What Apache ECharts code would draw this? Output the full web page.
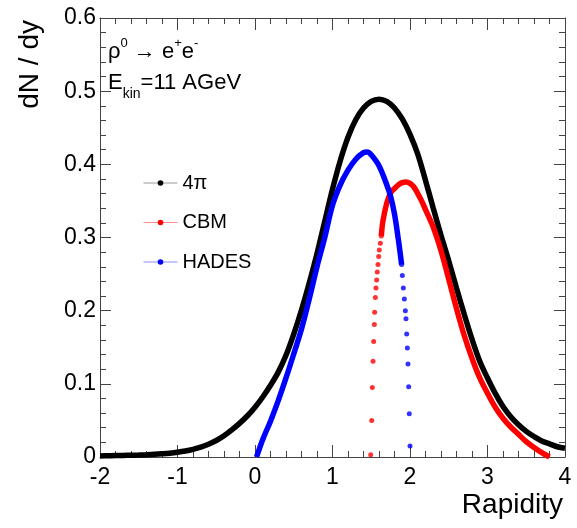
<!DOCTYPE html>
<html><head><meta charset="utf-8">
<script src="https://cdn.jsdelivr.net/npm/echarts@6.0.0/dist/echarts.min.js"></script>
<style>html,body{margin:0;padding:0;background:#fff}#c{width:577px;height:528px}</style>
</head><body><div id="c"></div>
<script>
// ---- data ----
const seriesNames = ['4π', 'CBM', 'HADES'];
const xTickLabels = ['-2', '-1', '0', '1', '2', '3', '4'];
const yTickLabels = ['0', '0.1', '0.2', '0.3', '0.4', '0.5', '0.6'];

const rap4pi = [-2.0,-1.9,-1.8,-1.7,-1.6,-1.5,-1.4,-1.3,-1.2,-1.1,-1.0,-0.9,-0.8,-0.7,-0.6,-0.5,-0.4,-0.3,-0.2,-0.1,
  0.0,0.1,0.2,0.3,0.4,0.5,0.6,0.7,0.8,0.9,1.0,1.1,1.2,1.3,1.4,1.5,1.6,1.7,1.8,1.9,
  2.0,2.1,2.2,2.3,2.4,2.5,2.6,2.7,2.8,2.9,3.0,3.1,3.2,3.3,3.4,3.5,3.6,3.7,3.8,3.9,4.0];
const dndy4pi = [0.0015,0.0017,0.0019,0.0021,0.0024,0.0027,0.0031,0.0036,0.0043,0.0052,0.0065,0.0082,0.0105,0.0135,0.0175,0.0225,0.029,0.037,0.046,0.056,
  0.068,0.082,0.098,0.116,0.139,0.168,0.201,0.238,0.278,0.322,0.366,0.405,0.437,0.461,0.477,0.486,0.489,0.486,0.477,0.462,
  0.441,0.414,0.378,0.340,0.303,0.268,0.231,0.195,0.161,0.131,0.108,0.087,0.069,0.055,0.044,0.035,0.028,0.022,0.018,0.014,0.012];

const rapCbmDots = [1.493,1.506,1.514,1.523,1.531,1.540,1.544,1.553,1.561,1.570,1.578,1.587,1.596,1.604,1.617,1.630];
const dndyCbmDots = [0.003,0.050,0.095,0.131,0.158,0.181,0.198,0.218,0.231,0.242,0.253,0.263,0.274,0.283,0.292,0.302];
const rapCbm = [1.63,1.65,1.7,1.75,1.8,1.85,1.9,1.95,2.0,2.05,2.1,2.15,2.2,2.3,2.4,2.5,2.6,2.7,2.8,2.9,3.0,3.1,3.2,3.3,3.4,3.5,3.6,3.7,3.8];
const dndyCbm = [0.302,0.322,0.347,0.361,0.367,0.372,0.375,0.376,0.374,0.369,0.360,0.350,0.338,0.314,0.282,0.243,0.203,0.166,0.135,0.108,0.087,0.068,0.053,0.041,0.031,0.021,0.013,0.006,0.0];

const rapHades = [0.02,0.1,0.2,0.3,0.4,0.5,0.6,0.7,0.8,0.9,1.0,1.1,1.2,1.3,1.4,1.45,1.5,1.6,1.7,1.75,1.8,1.85,1.892];
const dndyHades = [0.0,0.024,0.049,0.077,0.108,0.141,0.175,0.216,0.260,0.300,0.344,0.372,0.392,0.407,0.416,0.417,0.413,0.398,0.372,0.356,0.332,0.297,0.263];
const rapHadesDots = [1.892,1.901,1.914,1.927,1.940,1.948,1.957,1.966,1.974,1.983,1.991,2.0];
const dndyHadesDots = [0.263,0.248,0.231,0.216,0.200,0.189,0.168,0.149,0.127,0.096,0.059,0.015];

// ---- chart ----
const F = 'Liberation Sans, Arial, Helvetica, sans-serif';
const zip = (a, b) => a.map((v, i) => [v, b[i]]);
const chart = echarts.init(document.getElementById('c'), null, {renderer: 'canvas'});

const axisCommon = {
  axisLine: {show: true, onZero: false, lineStyle: {color: '#444', width: 1}},
  splitLine: {show: false},
  minorSplitLine: {show: false}
};
const xTickFmt = v => { const i = Math.round(v + 2); return (Math.abs(v - Math.round(v)) < 1e-9 && xTickLabels[i] !== undefined) ? xTickLabels[i] : ''; };
const yTickFmt = v => { const i = Math.round(v * 10); return yTickLabels[i] !== undefined ? yTickLabels[i] : ''; };
const tick = (len) => ({show: true, inside: true, length: len, lineStyle: {color: '#444'}});
const minor = {show: true, splitNumber: 5, length: 6, lineStyle: {color: '#444'}};

chart.setOption({
  animation: false,
  backgroundColor: '#fff',
  grid: {left: 100, right: 12, top: 18, bottom: 71, containLabel: false},
  xAxis: [
    Object.assign({type: 'value', min: -2, max: 4, interval: 1, position: 'bottom',
      axisTick: tick(12), minorTick: minor,
      axisLabel: {show: true, margin: 9, fontSize: 23, fontFamily: F, color: '#000', formatter: xTickFmt}}, axisCommon),
    Object.assign({type: 'value', min: -2, max: 4, interval: 1, position: 'top',
      axisTick: tick(12), minorTick: minor, axisLabel: {show: false}}, axisCommon)
  ],
  yAxis: [
    Object.assign({type: 'value', min: 0, max: 0.6, interval: 0.1, position: 'left',
      axisTick: tick(11), minorTick: minor,
      axisLabel: {show: true, margin: 4, fontSize: 23, fontFamily: F, color: '#000', formatter: yTickFmt}}, axisCommon),
    Object.assign({type: 'value', min: 0, max: 0.6, interval: 0.1, position: 'right',
      axisTick: tick(11), minorTick: minor, axisLabel: {show: false}}, axisCommon)
  ],
  legend: {
    left: 143, top: 173, orient: 'vertical', itemWidth: 34, itemHeight: 7, itemGap: 19.5, padding: 0,
    textStyle: {fontSize: 20, fontFamily: F, color: '#000'},
    lineStyle: {width: 1},
    data: [
      {name: seriesNames[0], lineStyle: {color: '#9a9a9a', width: 1}},
      {name: seriesNames[1], lineStyle: {color: '#ff8a8a', width: 1}},
      {name: seriesNames[2], lineStyle: {color: '#8a8aff', width: 1}}
    ]
  },
  series: [
    {name: seriesNames[0], type: 'line', data: zip(rap4pi, dndy4pi), smooth: 0.35, symbol: 'circle', symbolSize: 6, showSymbol: false,
      lineStyle: {color: '#000', width: 5.5}, itemStyle: {color: '#000'}, z: 2},
    {name: seriesNames[1], type: 'line', data: zip(rapCbm, dndyCbm), smooth: 0.35, symbol: 'circle', symbolSize: 6, showSymbol: false,
      lineStyle: {color: '#ff0000', width: 5.5}, itemStyle: {color: '#ff0000'}, z: 3},
    {name: seriesNames[1], type: 'scatter', data: zip(rapCbmDots, dndyCbmDots), symbol: 'circle', symbolSize: 5,
      itemStyle: {color: '#ff0000'}, z: 3},
    {name: seriesNames[2], type: 'line', data: zip(rapHades, dndyHades), smooth: 0.35, symbol: 'circle', symbolSize: 6, showSymbol: false,
      lineStyle: {color: '#0000ff', width: 5.5}, itemStyle: {color: '#0000ff'}, z: 4},
    {name: seriesNames[2], type: 'scatter', data: zip(rapHadesDots, dndyHadesDots), symbol: 'circle', symbolSize: 5,
      itemStyle: {color: '#0000ff'}, z: 4}
  ],
  graphic: [
    {type: 'text', left: 108, top: 37, style: {
      text: '{b|ρ}{p|0}{b| → e}{p|+}{b|e}{p|-}',
      rich: {
        b: {fontSize: 22, fontFamily: F, fill: '#000', lineHeight: 26, verticalAlign: 'bottom'},
        p: {fontSize: 13, fontFamily: F, fill: '#000', lineHeight: 13, verticalAlign: 'top'}
      }}},
    {type: 'text', left: 108, top: 72, style: {
      text: '{b|E}{k|kin}{b|=11 AGeV}',
      rich: {
        b: {fontSize: 22, fontFamily: F, fill: '#000', lineHeight: 24, verticalAlign: 'top'},
        k: {fontSize: 14, fontFamily: F, fill: '#000', lineHeight: 14, padding: [15, 0, 0, 0], verticalAlign: 'top'}
      }}},
    {type: 'text', x: 44, y: 20, rotation: Math.PI / 2, style: {
      text: 'dN / dy', fontSize: 28, fontFamily: F, fill: '#000', align: 'right', verticalAlign: 'bottom'}},
    {type: 'text', right: 14, top: 491, style: {
      text: 'Rapidity', fontSize: 28, fontFamily: F, fill: '#000'}}
  ]
});
</script>
</body></html>
